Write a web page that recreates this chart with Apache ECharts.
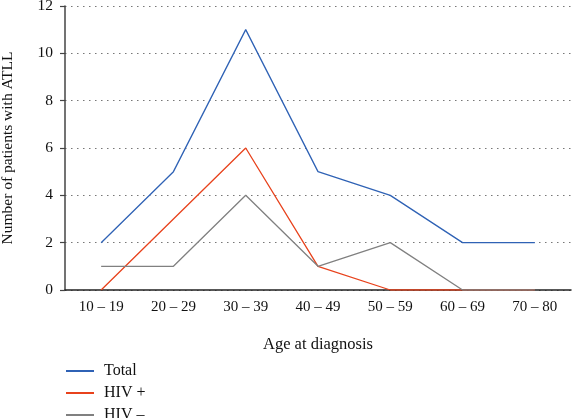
<!DOCTYPE html>
<html>
<head>
<meta charset="utf-8">
<script src="https://cdn.jsdelivr.net/npm/echarts@6/dist/echarts.min.js"></script>
<style>html,body{margin:0;padding:0;background:#fff}#c{width:572px;height:418px}</style>
</head>
<body>
<div id="c"></div>
<script>
var categories = ['10 – 19', '20 – 29', '30 – 39', '40 – 49', '50 – 59', '60 – 69', '70 – 80'];
var totalValues = [2, 5, 11, 5, 4, 2, 2];
var hivPosValues = [0, 3, 6, 1, 0, 0, 0];
var hivNegValues = [1, 1, 4, 1, 2, 0, 0];
var yTicks = [0, 2, 4, 6, 8, 10, 12];

var font = 'Liberation Serif';
var chart = echarts.init(document.getElementById('c'), null, {renderer: 'canvas'});
chart.setOption({
  animation: false,
  textStyle: {fontFamily: font, color: '#111'},
  grid: {left: 65, right: 1, top: 6, bottom: 128, containLabel: false, outerBoundsMode: 'none'},
  legend: {
    orient: 'vertical', left: 65, top: 363, height: 60, padding: 0,
    itemWidth: 28, itemHeight: 14, itemGap: 6,
    itemStyle: {opacity: 0},
    textStyle: {fontFamily: font, fontSize: 16, color: '#111', padding: [0, 0, 0, 5]},
    data: ['Total', 'HIV +', 'HIV –']
  },
  xAxis: {
    type: 'category', data: categories, boundaryGap: true,
    name: 'Age at diagnosis', nameLocation: 'middle', nameGap: 46,
    nameTextStyle: {fontFamily: font, fontSize: 16.5, color: '#111'},
    axisLine: {lineStyle: {color: '#222', width: 1.5}},
    axisTick: {alignWithLabel: true, length: 6, lineStyle: {color: '#222', width: 1.2}},
    axisLabel: {fontFamily: font, fontSize: 15, color: '#111', margin: 10},
    splitLine: {show: false}
  },
  yAxis: {
    type: 'value', min: yTicks[0], max: yTicks[yTicks.length - 1], interval: 2,
    name: 'Number of patients with ATLL', nameLocation: 'middle', nameGap: 49,
    nameTextStyle: {fontFamily: font, fontSize: 15.5, color: '#111'},
    axisLine: {show: true, lineStyle: {color: '#444', width: 1.5}},
    axisTick: {show: true, length: 5, lineStyle: {color: '#444', width: 1.2}},
    axisLabel: {fontFamily: font, fontSize: 15.5, color: '#111', margin: 12},
    splitLine: {show: true, lineStyle: {color: '#777', width: 1.2, type: [1.5, 4.5]}}
  },
  series: [
    {name: 'Total', type: 'line', data: totalValues, symbol: 'none',
     itemStyle: {color: '#2f62b5'}, lineStyle: {color: '#2f62b5', width: 1.3}},
    {name: 'HIV +', type: 'line', data: hivPosValues, symbol: 'none',
     itemStyle: {color: '#e8421c'}, lineStyle: {color: '#e8421c', width: 1.3}},
    {name: 'HIV –', type: 'line', data: hivNegValues, symbol: 'none',
     itemStyle: {color: '#808080'}, lineStyle: {color: '#808080', width: 1.3}}
  ]
});
</script>
</body>
</html>
